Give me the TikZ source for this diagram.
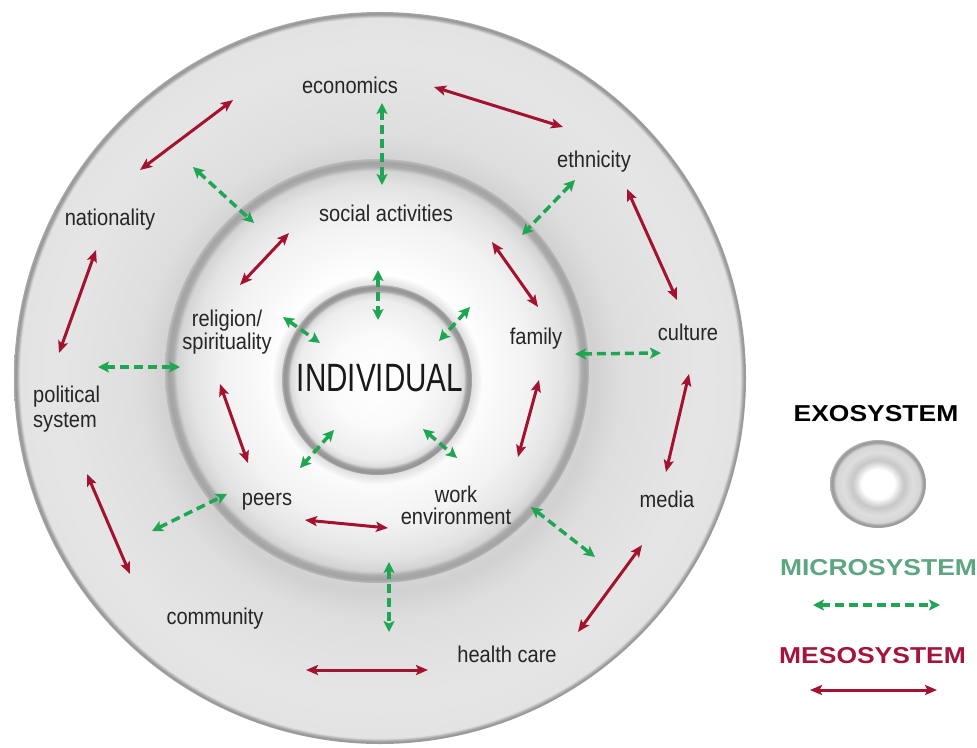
\documentclass[tikz,border=0pt]{standalone}
\usepackage{fontspec}
\setmainfont{Liberation Sans}
\newfontfamily\labf{Liberation Sans}[FakeStretch=0.88]
\newfontfamily\indf{Liberation Sans}[FakeStretch=0.75]
\newfontfamily\legf{Liberation Sans}[FakeStretch=1.15]
\usetikzlibrary{arrows.meta}
\definecolor{mesored}{HTML}{A3132F}
\definecolor{microgreen}{HTML}{1FA652}
\definecolor{microtext}{HTML}{5CA681}
\definecolor{mesotext}{HTML}{A3153A}
\definecolor{labelgray}{HTML}{262626}

% radius of the shaded path corresponds to 25bp
\pgfdeclareradialshading{outerdisk}{\pgfpoint{0bp}{0bp}}{%
 color(0bp)=(black!17); color(14bp)=(black!17); color(14.6bp)=(black!18);
 color(16.5bp)=(black!13); color(22bp)=(black!10); color(24.6bp)=(black!11);
 color(24.75bp)=(black!30); color(24.88bp)=(black!42); color(25bp)=(black!34); color(50bp)=(black!34)}
\pgfdeclareradialshading{middisk}{\pgfpoint{0bp}{0bp}}{%
 color(0bp)=(white); color(11bp)=(white); color(18bp)=(black!5);
 color(22bp)=(black!11); color(23.6bp)=(black!17); color(24.1bp)=(black!33);
 color(24.6bp)=(black!36); color(25bp)=(black!27); color(50bp)=(black!27)}
\pgfdeclareradialshading{inshadow}{\pgfpoint{0bp}{0bp}}{%
 color(0bp)=(black!12); color(22.5bp)=(black!12); color(25bp)=(white); color(50bp)=(white)}
\pgfdeclareradialshading{indisk}{\pgfpoint{0bp}{0bp}}{%
 color(0bp)=(white); color(12.5bp)=(black!2); color(21bp)=(black!7);
 color(22.8bp)=(black!14); color(23.6bp)=(black!38); color(24.5bp)=(black!42);
 color(25bp)=(black!30); color(50bp)=(black!30)}
\pgfdeclareradialshading{legring}{\pgfpoint{0bp}{0bp}}{%
 color(0bp)=(white); color(8.5bp)=(white); color(11.5bp)=(black!14);
 color(13.5bp)=(black!22); color(18bp)=(black!13); color(22bp)=(black!16);
 color(23.5bp)=(black!38); color(24.5bp)=(black!40); color(25bp)=(black!28);
 color(50bp)=(black!28)}

\begin{document}
\begin{tikzpicture}[x=1pt,y=-1pt,
  lab/.style={font=\labf\fontsize{22.8}{22.5}\selectfont, text=labelgray, align=center, inner sep=0pt},
  leg/.style={font=\legf\bfseries\fontsize{23}{26}\selectfont, inner sep=0pt},
  meso/.style={draw=mesored, line width=3pt, >={Stealth[length=12pt,width=10pt,inset=2.5pt]}, <->},
  micro/.style={draw=microgreen, line width=3.5pt, dash pattern=on 9pt off 5pt,
     >={Stealth[length=11pt,width=11pt,inset=2.5pt]}, <->}]
\useasboundingbox (0,0) rectangle (977,747);
\fill[white] (0,0) rectangle (977,747);

% discs
\shade[shading=outerdisk] (380,378) circle[radius=366pt];
\shade[shading=middisk] (377,371) circle[radius=212pt];
\shade[shading=inshadow] (377,380) circle[radius=106pt];
\shade[shading=indisk] (377,380) circle[radius=95pt];

% labels
\node[lab] (econ) at (350,85) {economics};
\node[lab] (social) at (386,213) {social activities};
\node[lab] (ethn) at (594,162) {ethnicity};
\node[lab] (nation) at (110,220) {nationality};
\node[lab] (relig) at (227,332) {religion/\\spirituality};
\node[lab] (family) at (536,339) {family};
\node[lab] (culture) at (688,332) {culture};
\node[font=\indf\fontsize{39.5}{40}\selectfont, text=black!90, inner sep=0pt] (indiv) at (380,378) {INDIVIDUAL};
\node[lab, align=left, anchor=west] (polit) at (33,409.5) {political\\[2.5pt]system};
\node[lab] (peers) at (267,502) {peers};
\node[lab] (work) at (456,505.5) {work\\environment};
\node[lab] (media) at (667,499) {media};
\node[lab] (comm) at (215,619) {community};
\node[lab] (health) at (507,654) {health care};

% mesosystem arrows
\coordinate (r1a) at (140,170);  \coordinate (r1b) at (233,100);
\coordinate (r2a) at (434,87);   \coordinate (r2b) at (563,127);
\coordinate (r3a) at (627,189);  \coordinate (r3b) at (677,300);
\coordinate (r4a) at (689,374);  \coordinate (r4b) at (666,472);
\coordinate (r5a) at (642,545);  \coordinate (r5b) at (578,632);
\coordinate (r6a) at (306,670);  \coordinate (r6b) at (428,670);
\coordinate (r7a) at (87,474);   \coordinate (r7b) at (130,574);
\coordinate (r8a) at (96,250);   \coordinate (r8b) at (59,353);
\coordinate (r9a) at (289,233);  \coordinate (r9b) at (240,285);
\coordinate (r10a) at (492,242); \coordinate (r10b) at (538,307);
\coordinate (r11a) at (539,380); \coordinate (r11b) at (518,457);
\coordinate (r12a) at (305,520); \coordinate (r12b) at (388,528);
\coordinate (r13a) at (220,384); \coordinate (r13b) at (248,463);
\foreach \i in {1,...,13} {\draw[meso] (r\i a) -- (r\i b);}

% microsystem arrows
\coordinate (g1a) at (382,103);  \coordinate (g1b) at (382,185);
\coordinate (g2a) at (193,167);  \coordinate (g2b) at (254,223);
\coordinate (g3a) at (575,180);  \coordinate (g3b) at (522,235);
\coordinate (g4a) at (98,367);   \coordinate (g4b) at (180,367);
\coordinate (g5a) at (575,354);  \coordinate (g5b) at (661,353);
\coordinate (g6a) at (152,531);  \coordinate (g6b) at (227,494);
\coordinate (g7a) at (531,507);  \coordinate (g7b) at (595,557);
\coordinate (g8a) at (389,562);  \coordinate (g8b) at (389,632);
\coordinate (g9a) at (378,270);  \coordinate (g9b) at (378,320);
\coordinate (g10a) at (283,317); \coordinate (g10b) at (320,343);
\coordinate (g11a) at (470,307); \coordinate (g11b) at (439,341);
\coordinate (g12a) at (334,430); \coordinate (g12b) at (300,468);
\coordinate (g13a) at (423,429); \coordinate (g13b) at (457,458);
\foreach \i in {1,...,13} {\draw[micro] (g\i a) -- (g\i b);}

% legend
\node[leg, text=black] (exo) at (876,414) {EXOSYSTEM};
\shade[shading=legring] (878,484) ellipse[x radius=48pt, y radius=44pt];
\node[leg, text=microtext] (micro) at (878.5,568) {MICROSYSTEM};
\coordinate (lga) at (813,605); \coordinate (lgb) at (940,605);
\draw[micro] (lga) -- (lgb);
\node[leg, text=mesotext] (meso) at (872.5,656) {MESOSYSTEM};
\coordinate (lra) at (810,690); \coordinate (lrb) at (937,690);
\draw[meso] (lra) -- (lrb);
\end{tikzpicture}
\end{document}
